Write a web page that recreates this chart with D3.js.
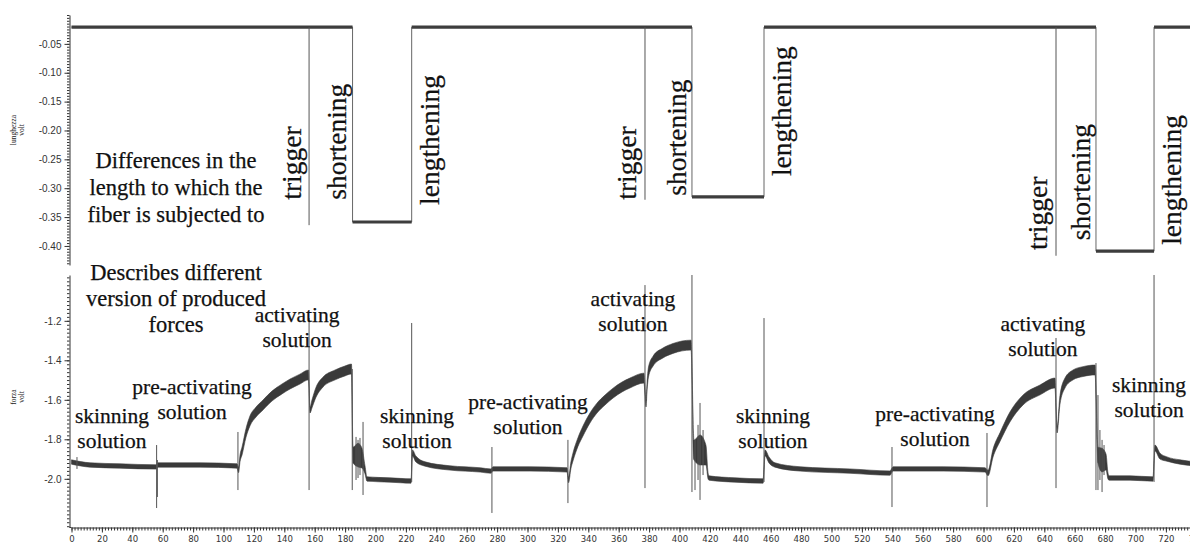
<!DOCTYPE html>
<html>
<head>
<meta charset="utf-8">
<script src="https://cdn.jsdelivr.net/npm/d3@7"></script>
<style>
  html, body { margin: 0; padding: 0; background: #fff; }
  svg { display: block; }
  .axis text { font-family: "Liberation Sans", Arial, sans-serif; fill: #333; font-size: 10px; }
  .axis.x text { font-family: "DejaVu Sans Condensed", "Liberation Sans", sans-serif; font-size: 9.5px; }
  .axis path, .axis line { stroke: #333; }
</style>
</head>
<body>
<svg id="chart" width="1190" height="545"></svg>
<script>
// ---------- recorded values ----------
// time axis (s)
const timeTicks = d3.range(0, 741, 20);
// "lunghezza" channel (V)
const lengthTicks = [-0.05, -0.10, -0.15, -0.20, -0.25, -0.30, -0.35, -0.40];
// "forza" channel (V)
const forceTicks = [-1.2, -1.4, -1.6, -1.8, -2.0];

// length command: resting level, and per protocol cycle the trigger,
// the release (shortening), the restretch (lengthening) and the shortened level
const restLength = -0.021;
const triggerTimes = [156.3, 377.3, 647.7];
const triggerDepth = [-0.364, -0.320, -0.417];
const shorteningTimes = [184.9, 408.2, 674.0];
const lengtheningTimes = [223.8, 455.6, 712.2];
const shortenedLength = [-0.3585, -0.315, -0.409];

// force trace: [time, mean volts, half-width of the noise band]
const forceTrace = [
  [0, -1.915, 0.011], [12.2, -1.930, 0.011], [31.9, -1.935, 0.011], [55.6, -1.940, 0.011],
  [56.9, -1.930, 0.011], [84.5, -1.930, 0.011], [108.9, -1.935, 0.011],
  [109.9, -1.955, 0.014], [110.9, -1.895, 0.017], [112.2, -1.859, 0.020], [114.8, -1.768, 0.022],
  [117.4, -1.707, 0.025], [121.4, -1.662, 0.025], [126.0, -1.626, 0.025], [131.9, -1.581, 0.025],
  [138.5, -1.545, 0.025], [143.8, -1.520, 0.025], [150.3, -1.495, 0.025], [155.9, -1.474, 0.025],
  [156.9, -1.652, 0.015], [158.2, -1.621, 0.020], [160.9, -1.561, 0.025], [165.5, -1.510, 0.025],
  [173.4, -1.474, 0.025], [179.9, -1.454, 0.025], [184.2, -1.444, 0.025],
  [185.2, -1.880, 0.040], [188.5, -1.880, 0.060], [191.1, -1.895, 0.050], [193.1, -1.955, 0.020],
  [194.4, -2.001, 0.011], [209.5, -2.006, 0.011], [223.4, -2.011, 0.011],
  [224.3, -1.869, 0.015], [226.6, -1.900, 0.015], [232.6, -1.925, 0.011], [249.0, -1.945, 0.011],
  [268.8, -1.955, 0.011], [276.0, -1.961, 0.011],
  [277.3, -1.950, 0.011], [301.6, -1.950, 0.011], [326.0, -1.955, 0.011],
  [327.0, -2.006, 0.014], [328.6, -1.930, 0.017], [329.9, -1.890, 0.020], [333.2, -1.814, 0.022],
  [336.5, -1.758, 0.025], [341.1, -1.692, 0.025], [345.7, -1.642, 0.025], [351.0, -1.601, 0.025],
  [356.3, -1.566, 0.025], [362.2, -1.535, 0.025], [367.4, -1.515, 0.025], [376.6, -1.490, 0.025],
  [378.0, -1.621, 0.015], [378.6, -1.540, 0.020], [379.6, -1.459, 0.025], [382.6, -1.404, 0.025],
  [389.1, -1.363, 0.025], [395.7, -1.340, 0.025], [407.6, -1.323, 0.025],
  [409.5, -1.854, 0.050], [413.5, -1.854, 0.076], [417.4, -1.880, 0.050], [418.8, -1.986, 0.015],
  [419.4, -1.996, 0.011], [436.5, -2.006, 0.011], [455.0, -2.011, 0.011],
  [456.3, -1.869, 0.015], [458.9, -1.905, 0.015], [462.8, -1.930, 0.011], [479.3, -1.950, 0.011],
  [512.2, -1.961, 0.011], [538.5, -1.971, 0.011],
  [540.5, -1.950, 0.011], [573.4, -1.950, 0.011], [601.0, -1.955, 0.011],
  [603.0, -1.971, 0.014], [606.3, -1.869, 0.020], [610.9, -1.788, 0.022], [617.4, -1.687, 0.025],
  [626.0, -1.601, 0.025], [637.2, -1.550, 0.025], [647.0, -1.515, 0.025],
  [648.4, -1.753, 0.015], [650.3, -1.601, 0.022], [653.6, -1.515, 0.025], [658.9, -1.474, 0.025],
  [665.5, -1.457, 0.025], [673.4, -1.449, 0.025],
  [675.3, -1.880, 0.040], [678.0, -1.905, 0.060], [680.6, -1.915, 0.040], [681.9, -1.986, 0.015],
  [682.6, -1.996, 0.011], [696.4, -1.996, 0.011], [711.5, -2.001, 0.011],
  [712.8, -1.844, 0.015], [716.1, -1.885, 0.015], [720.7, -1.900, 0.011], [729.3, -1.915, 0.011],
  [740, -1.925, 0.011]
];

// artefact transients on the force channel: [time, top volts, bottom volts]
const forceSpikes = [
  [3.6, -1.890, -1.950],
  [56.0, -1.829, -2.148], [56.5, -1.905, -2.092],
  [109.5, -1.763, -2.057],
  [156.3, -1.186, -2.057],
  [184.7, -1.444, -2.057], [187.2, -1.788, -2.006], [188.5, -1.803, -1.996],
  [189.8, -1.793, -1.981], [191.8, -1.712, -2.082],
  [223.8, -1.211, -2.016],
  [276.6, -1.839, -2.173],
  [326.6, -1.803, -2.123],
  [377.3, -1.019, -2.047],
  [408.2, -0.968, -2.067], [410.2, -1.803, -2.057], [412.2, -1.727, -2.006],
  [413.5, -1.616, -2.107], [415.5, -1.753, -1.981],
  [455.6, -1.186, -2.016],
  [539.8, -1.839, -2.143],
  [602.3, -1.768, -2.143],
  [647.7, -1.287, -2.047],
  [674.0, -1.414, -2.057], [675.3, -1.576, -2.057], [676.6, -1.753, -2.006],
  [678.0, -1.803, -2.067], [679.3, -1.829, -1.981],
  [712.2, -0.968, -2.016]
];

// annotation texts
const lengthNote = ["Differences in the", "length to which the", "fiber is subjected to"];
const forceNote = ["Describes different", "version of produced", "forces"];
const stepLabels = ["trigger", "shortening", "lengthening"];
// where each rotated step label sits: [time, volts on the length axis]
const stepLabelAnchors = [
  [[150.7, -0.320], [180.9, -0.320], [241.8, -0.329]],
  [[371.7, -0.320], [404.3, -0.313], [473.4, -0.279]],
  [[642.1, -0.407], [670.1, -0.390], [729.9, -0.398]]
];
// bath solutions along the force trace: [first line, second line, time, volts]
const solutionLabels = [
  ["skinning", "solution", 26.6, -1.717],
  ["pre-activating", "solution", 79.3, -1.571],
  ["activating", "solution", 148.4, -1.206],
  ["skinning", "solution", 227.3, -1.717],
  ["pre-activating", "solution", 300.3, -1.647],
  ["activating", "solution", 369.4, -1.125],
  ["skinning", "solution", 461.5, -1.717],
  ["pre-activating", "solution", 568.1, -1.707],
  ["activating", "solution", 639.1, -1.252],
  ["skinning", "solution", 708.9, -1.560]
];

// ---------- layout ----------
const SERIF = '"Liberation Serif", "Times New Roman", serif';
const svg = d3.select("#chart");
const W = 1190, H = 545;
const axisX = 69.5;

svg.append("rect").attr("width", W).attr("height", H).attr("fill", "#fff");

const x = d3.scaleLinear().domain([0, 740]).range([71.5, 71.5 + 740 * 1.52]);
const yLen = d3.scaleLinear().domain([-0.433, 0]).range([265, 15]);
const yF = d3.scaleLinear().domain([-2.2466, -0.968]).range([527.5, 275]);

// ---------- axes ----------
function minorRange(a, b, step) {
  const out = [];
  for (let k = Math.ceil(a / step - 1e-9); k * step <= b + 1e-9; k++) out.push(+(k * step).toFixed(4));
  return out;
}

svg.append("g").attr("class", "axis").attr("transform", `translate(${axisX},0)`)
  .call(d3.axisLeft(yLen).tickValues(minorRange(-0.433, 0, 0.005)).tickSize(2.5).tickSizeOuter(0).tickFormat(""));
svg.append("g").attr("class", "axis").attr("transform", `translate(${axisX},0)`)
  .call(d3.axisLeft(yLen).tickValues(lengthTicks).tickSize(5).tickSizeOuter(0).tickPadding(3)
    .tickFormat(d => d.toFixed(2)))
  .call(g => g.select(".domain").remove());

svg.append("g").attr("class", "axis").attr("transform", `translate(${axisX},0)`)
  .call(d3.axisLeft(yF).tickValues(minorRange(-2.24, -0.97, 0.02)).tickSize(2.5).tickSizeOuter(0).tickFormat(""));
svg.append("g").attr("class", "axis").attr("transform", `translate(${axisX},0)`)
  .call(d3.axisLeft(yF).tickValues(forceTicks).tickSize(5).tickSizeOuter(0).tickPadding(3)
    .tickFormat(d => d.toFixed(1)))
  .call(g => g.select(".domain").remove());

svg.append("g").attr("class", "axis x").attr("transform", `translate(0,527.5)`)
  .call(d3.axisBottom(x).tickValues(d3.range(0, 741, 2)).tickSize(3).tickSizeOuter(0).tickFormat(""));
svg.append("g").attr("class", "axis x").attr("transform", `translate(0,527.5)`)
  .call(d3.axisBottom(x).tickValues(timeTicks).tickSize(5).tickSizeOuter(0).tickPadding(3)
    .tickFormat(d => String(d)))
  .call(g => g.select(".domain").remove());
svg.append("line").attr("x1", axisX).attr("x2", x(0)).attr("y1", 527.5).attr("y2", 527.5).attr("stroke", "#333");

function note(sel) {
  return sel.attr("font-family", SERIF).attr("fill", "#111")
    .attr("stroke", "#111").attr("stroke-width", 0.25);
}

// channel names
function channelName(lines, cy) {
  lines.forEach((s, i) => {
    svg.append("text").attr("font-family", SERIF).attr("fill", "#222")
      .attr("transform", `translate(${16 + i * 7.5},${cy}) rotate(-90)`)
      .attr("text-anchor", "middle").attr("font-size", 7.5).text(s);
  });
}
channelName(["lunghezza", "volt"], 130);
channelName(["forza", "volt"], 397);

// ---------- length channel ----------
const lengthTrace = [[0, restLength]];
shorteningTimes.forEach((ts, i) => {
  lengthTrace.push([ts, restLength], [ts, shortenedLength[i]],
                   [lengtheningTimes[i], shortenedLength[i]], [lengtheningTimes[i], restLength]);
});
lengthTrace.push([740, restLength]);

const lenLine = d3.line().x(d => x(d[0])).y(d => yLen(d[1]));
svg.append("path").attr("d", lenLine(lengthTrace)).attr("fill", "none")
  .attr("stroke", "#666").attr("stroke-width", 1);
for (let i = 0; i < lengthTrace.length - 1; i++) {
  const a = lengthTrace[i], b = lengthTrace[i + 1];
  if (a[1] === b[1] && b[0] > a[0]) {
    svg.append("path").attr("d", lenLine([a, b])).attr("fill", "none")
      .attr("stroke", "#3d3d3d").attr("stroke-width", 3.2);
  }
}
triggerTimes.forEach((t, i) => {
  svg.append("line").attr("x1", x(t)).attr("x2", x(t))
    .attr("y1", yLen(restLength)).attr("y2", yLen(triggerDepth[i]))
    .attr("stroke", "#555").attr("stroke-width", 1);
});

// ---------- force channel ----------
const band = d3.area()
  .x(d => x(d[0]))
  .y0(d => yF(d[1] - d[2]))
  .y1(d => yF(d[1] + d[2]))
  .curve(d3.curveMonotoneX);
svg.append("path").attr("d", band(forceTrace)).attr("fill", "#3a3a3a").attr("stroke", "#3a3a3a").attr("stroke-width", 0.6);

svg.append("g").selectAll("line").data(forceSpikes).join("line")
  .attr("x1", d => x(d[0])).attr("x2", d => x(d[0]))
  .attr("y1", d => yF(d[1])).attr("y2", d => yF(d[2]))
  .attr("stroke", "#555").attr("stroke-width", 1);

// ---------- annotations ----------
function block(lines, cx, y0, gap, size) {
  lines.forEach((s, i) => {
    note(svg.append("text")).attr("x", cx).attr("y", y0 + i * gap)
      .attr("text-anchor", "middle").attr("font-size", size).text(s);
  });
}
block(lengthNote, 176, 168, 27, 22.5);
block(forceNote, 176, 280, 26, 22.5);

stepLabelAnchors.forEach(cycle => {
  cycle.forEach((p, j) => {
    note(svg.append("text"))
      .attr("transform", `translate(${x(p[0])},${yLen(p[1])}) rotate(-90)`)
      .attr("font-size", 27.5).text(stepLabels[j]);
  });
});

solutionLabels.forEach(d => {
  block([d[0], d[1]], x(d[2]), yF(d[3]), 25, 21.5);
});
</script>
</body>
</html>
